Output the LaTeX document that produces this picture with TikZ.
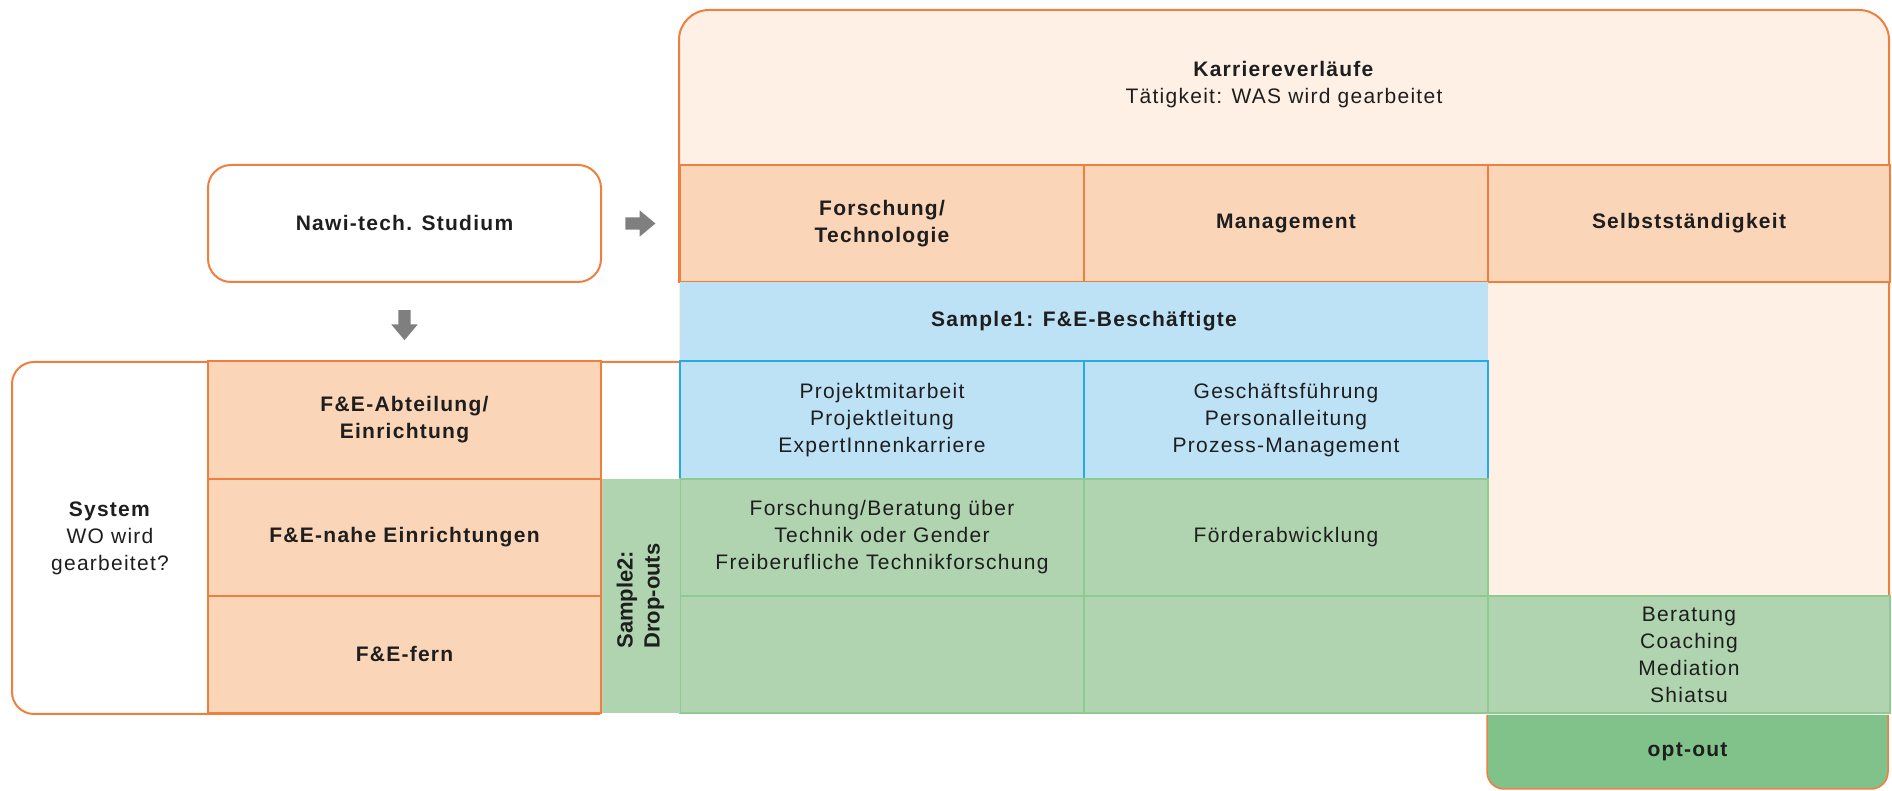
\documentclass[tikz,border=0pt]{standalone}
\usepackage{fontspec}
\setmainfont[LetterSpace=6]{Liberation Sans}
\newfontfamily\plainsans{Liberation Sans}
\usetikzlibrary{shapes.arrows,calc}
\definecolor{orng}{HTML}{EF7F3F}
\definecolor{peach}{HTML}{FAD5B8}
\definecolor{lpeach}{HTML}{FEF0E5}
\definecolor{lblue}{HTML}{BDE2F5}
\definecolor{bborder}{HTML}{29A9E1}
\definecolor{lgreen}{HTML}{AFD4AF}
\definecolor{gborder}{HTML}{8ECA92}
\definecolor{optgreen}{HTML}{80C28A}
\definecolor{arrowgray}{HTML}{7F7F7F}
\definecolor{txt}{HTML}{1E1E1E}
\begin{document}
\begin{tikzpicture}[x=1pt,y=1pt,
  every node/.style={text=txt, font=\fontsize{21}{27}\selectfont},
  cell/.style={rectangle, line width=2pt, inner sep=0pt, anchor=south west, align=center},
  headcell/.style={cell, draw=orng, fill=peach, font=\fontsize{21}{27}\selectfont\bfseries},
  bluecell/.style={cell, draw=bborder, fill=lblue},
  greencell/.style={cell, draw=gborder, fill=lgreen},
  label/.style={align=center, inner sep=0pt},
  blockarrow/.style={shape=single arrow, fill=arrowgray, draw=none, inner sep=6pt,
     single arrow head extend=7pt, single arrow tip angle=80, minimum height=30pt}
]
\useasboundingbox (0,0) rectangle (1892,791);

% system frame (drawn first, cells overlay it)
\draw[orng, fill=white, line width=2pt] (679,429) -- (34,429) arc[start angle=90,end angle=180,radius=22]
   -- (12,99) arc[start angle=180,end angle=270,radius=22] -- (600,77);
\node[label] (system) at (110,253) {\textbf{System}\\WO wird\\gearbeitet?};

% big career frame background
\fill[lpeach] (679,77) -- (679,751) arc[start angle=180,end angle=90,radius=30]
   -- (1859,781) arc[start angle=90,end angle=0,radius=30] -- (1889,77) -- cycle;
\draw[orng, line width=2pt] (679,508) -- (679,751) arc[start angle=180,end angle=90,radius=30]
   -- (1859,781) arc[start angle=90,end angle=0,radius=30] -- (1889,77);

\node[label] (karriere) at (1284,706) {\textbf{Karriereverläufe}\\Tätigkeit: WAS wird gearbeitet};

% header row
\node[headcell, minimum width=404, minimum height=117] (forsch) at (679,508) {Forschung/\\Technologie};
\node[headcell, minimum width=404, minimum height=117] (mgmt) at (1083,508) {Management};
\node[headcell, minimum width=402, minimum height=117] (selbst) at (1487,508) {Selbstständigkeit};

% sample 1
\node[cell, fill=lblue, minimum width=808, minimum height=79, font=\fontsize{21}{27}\selectfont\bfseries] (sample1) at (679,429) {Sample1: F\&E-Beschäftigte};
\node[bluecell, minimum width=404, minimum height=118] (projekt) at (679,311) {Projektmitarbeit\\Projektleitung\\ExpertInnenkarriere};
\node[bluecell, minimum width=404, minimum height=118] (gesch) at (1083,311) {Geschäftsführung\\Personalleitung\\Prozess-Management};

% green rows
\node[greencell, minimum width=404, minimum height=117] (beratungtech) at (679,194) {Forschung/Beratung über\\Technik oder Gender\\Freiberufliche Technikforschung};
\node[greencell, minimum width=404, minimum height=117] (foerder) at (1083,194) {Förderabwicklung};
\node[greencell, minimum width=404, minimum height=117] (leer1) at (679,77) {};
\node[greencell, minimum width=404, minimum height=117] (leer2) at (1083,77) {};
\node[greencell, minimum width=402, minimum height=117] (beratung) at (1487,77) {Beratung\\Coaching\\Mediation\\Shiatsu};

% opt-out
\filldraw[fill=optgreen, draw=orng, line width=1.5pt] (1487,76) -- (1487,19) arc[start angle=180,end angle=270,radius=17]
   -- (1871,2) arc[start angle=270,end angle=360,radius=17] -- (1888,76);
\node[label, font=\fontsize{21}{27}\selectfont\bfseries] (optout) at (1687.5,39) {opt-out};

% sample 2
\node[cell, fill=lgreen, minimum width=79, minimum height=234] (s2box) at (600,77) {};
\node[rotate=90, align=left, inner sep=0pt, font=\plainsans\fontsize{22}{27}\selectfont\bfseries] (sample2) at (s2box.center) {Sample2:\\Drop-outs};

% left system rows
\node[headcell, minimum width=393, minimum height=118] (abteil) at (207,311) {F\&E-Abteilung/\\Einrichtung};
\node[headcell, minimum width=393, minimum height=117] (nahe) at (207,194) {F\&E-nahe Einrichtungen};
\node[headcell, minimum width=393, minimum height=117] (fern) at (207,77) {F\&E-fern};

% study box
\node[cell, draw=orng, fill=white, rounded corners=23pt, minimum width=393, minimum height=117,
  font=\fontsize{21}{27}\selectfont\bfseries] (nawi) at (207,508) {Nawi-tech. Studium};

% arrows
\node[blockarrow] (arrR) at ($(nawi.east)!0.45!(forsch.west)$) {};
\node[blockarrow, rotate=-90] (arrD) at ($(nawi.south)!0.5!(abteil.north)$) {};
\end{tikzpicture}
\end{document}
